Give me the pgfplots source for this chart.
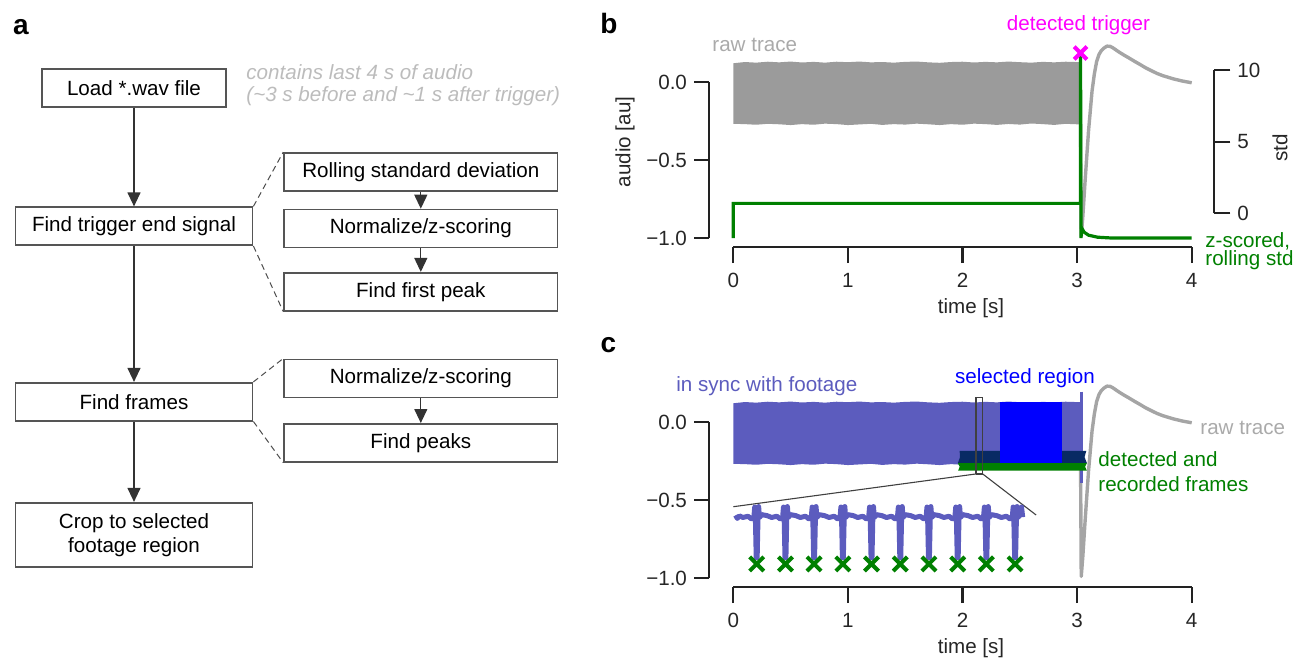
\documentclass[border=0pt]{standalone}
\usepackage{fontspec}
\setmainfont{Liberation Sans}
\usepackage{pgfplots}
\pgfplotsset{compat=1.18}
\usetikzlibrary{arrows.meta}

\definecolor{bandgray}{RGB}{155,155,155}
\definecolor{curvegray}{RGB}{165,165,165}
\definecolor{txtgray}{RGB}{170,170,170}
\definecolor{notegray}{RGB}{188,188,188}
\definecolor{zgreen}{RGB}{0,128,0}
\definecolor{trigmag}{RGB}{255,0,255}
\definecolor{syncpurple}{RGB}{92,92,190}
\definecolor{selblue}{RGB}{0,0,255}
\definecolor{navyb}{RGB}{8,42,100}
\definecolor{spine}{RGB}{34,34,34}
\definecolor{boxline}{RGB}{85,85,85}

\newcommand{\fs}{\fontsize{10.3}{12}\selectfont}

\pgfplotsset{
  spineaxis/.style={scale only axis, axis line style={spine, line width=1.15pt},
    major tick style={spine, line width=1.15pt}, tick align=outside, major tick length=7.5pt,
    tick label style={font=\fs, text=black!85}, /pgf/number format/assume math mode=true},
  dataaxis/.style={scale only axis, width=229.2pt, height=78pt, xmin=0, xmax=4, ymin=-1, ymax=0,
    hide axis, clip=false},
}

\begin{document}
\begin{tikzpicture}[font=\fs]
\useasboundingbox (0,0) rectangle (654.5pt,330pt);

% ---------------- panel a ----------------
\tikzset{box/.style={draw=boxline, line width=0.8pt, inner sep=0pt, align=center, minimum height=19pt},
  arr/.style={draw=black!80, line width=0.6pt, -{Triangle[width=6.5pt,length=7pt]}},
  dsh/.style={draw=black!70, line width=0.5pt, dash pattern=on 3pt off 2pt}}

\node[font=\fontsize{14}{16}\selectfont\bfseries] at (10.5pt,316.25pt) {a};
\node[box, minimum width=92pt] (load) at (67pt,286pt) {Load *.wav file};
\node[box, minimum width=118.6pt] (trig) at (67pt,216.9pt) {Find trigger end signal};
\node[box, minimum width=136.8pt] (roll) at (210.4pt,244pt) {Rolling standard deviation};
\node[box, minimum width=136.8pt] (norm1) at (210.4pt,215.75pt) {Normalize/z-scoring};
\node[box, minimum width=136.8pt] (ffp) at (210.4pt,184.15pt) {Find first peak};
\node[box, minimum width=118.6pt] (frames) at (67pt,129.15pt) {Find frames};
\node[box, minimum width=136.8pt] (norm2) at (210.4pt,140.85pt) {Normalize/z-scoring};
\node[box, minimum width=136.8pt] (peaks) at (210.4pt,108.6pt) {Find peaks};
\node[box, minimum width=118.6pt, minimum height=32pt] (crop) at (67pt,62.65pt) {Crop to selected\\footage region};

\draw[arr] (load.south) -- (trig.north);
\draw[arr] (trig.south) -- (frames.north);
\draw[arr] (frames.south) -- (crop.north);
\draw[arr] (roll.south) -- (norm1.north);
\draw[arr] (norm1.south) -- (ffp.north);
\draw[arr] (norm2.south) -- (peaks.north);
\draw[dsh] (trig.north east) -- (roll.north west);
\draw[dsh] (trig.south east) -- (ffp.south west);
\draw[dsh] (frames.north east) -- (norm2.north west);
\draw[dsh] (frames.south east) -- (peaks.south west);

\node[anchor=west, inner sep=0pt, text=notegray, font=\fs\itshape] at (123pt,294.15pt) {contains last 4 s of audio};
\node[anchor=west, inner sep=0pt, text=notegray, font=\fs\itshape] at (123pt,282.15pt) {(\textasciitilde 3 s before and \textasciitilde 1 s after trigger)};

% ---------------- panel b ----------------
\node[font=\fontsize{14}{16}\selectfont\bfseries] at (304.5pt,318.5pt) {b};

\begin{axis}[dataaxis, anchor=south west, at={(366.65pt,211pt)}]
\addplot[draw=none, fill=bandgray] coordinates {
(0,0.12) (0.1,0.128) (0.2,0.124) (0.3,0.13) (0.4,0.126) (0.5,0.131) (0.6,0.125) (0.7,0.129) (0.8,0.124) (0.9,0.13)
(1.0,0.127) (1.1,0.131) (1.2,0.126) (1.3,0.128) (1.4,0.124) (1.5,0.129) (1.6,0.131) (1.7,0.126) (1.8,0.123) (1.9,0.128)
(2.0,0.13) (2.1,0.125) (2.2,0.129) (2.3,0.126) (2.4,0.131) (2.5,0.127) (2.6,0.124) (2.7,0.129) (2.8,0.126) (2.9,0.13) (3.03,0.127)
(3.03,-0.272) (2.9,-0.268) (2.8,-0.275) (2.7,-0.27) (2.6,-0.266) (2.5,-0.273) (2.4,-0.269) (2.3,-0.275) (2.2,-0.27) (2.1,-0.267)
(2.0,-0.274) (1.9,-0.27) (1.8,-0.276) (1.7,-0.271) (1.6,-0.267) (1.5,-0.273) (1.4,-0.27) (1.3,-0.275) (1.2,-0.268) (1.1,-0.272)
(1.0,-0.276) (0.9,-0.27) (0.8,-0.267) (0.7,-0.274) (0.6,-0.27) (0.5,-0.276) (0.4,-0.271) (0.3,-0.268) (0.2,-0.274) (0.1,-0.27) (0,-0.268)};
\addplot[curvegray, line width=1.7pt, line join=round] coordinates {
(3.03,-0.27) (3.036,-0.99) (3.05,-0.86) (3.07,-0.63) (3.10,-0.31) (3.13,-0.06) (3.15,0.05) (3.17,0.13) (3.19,0.175)
(3.21,0.2) (3.23,0.215) (3.26,0.23) (3.29,0.228) (3.31,0.22) (3.34,0.205) (3.37,0.19) (3.41,0.172) (3.45,0.155)
(3.5,0.133) (3.55,0.112) (3.6,0.09) (3.66,0.068) (3.7,0.054) (3.75,0.04) (3.84,0.02) (3.92,0.006) (4.0,-0.005)};
\addplot[zgreen, line width=1.6pt] coordinates {
(0,-1) (0,-0.778) (3.03,-0.778) (3.03,0.186) (3.034,-1) (3.04,-0.935) (3.06,-0.962) (3.1,-0.982) (3.18,-0.995) (3.3,-1) (4,-1)};
\addplot[only marks, mark=x, mark size=4.5pt, trigmag, line width=2pt] coordinates {(3.03,0.186)};
\end{axis}

\begin{axis}[spineaxis, anchor=south west, at={(354.5pt,211pt)}, width=4pt, height=78pt,
  xmin=0, xmax=1, ymin=-1, ymax=0, axis y line*=left, hide x axis,
  ytick={-1,-0.5,0}, yticklabels={−1.0,−0.5,0.0}]
\end{axis}
\begin{axis}[spineaxis, anchor=south west, at={(366.65pt,206.5pt)}, width=229.2pt, height=4pt,
  xmin=0, xmax=4, ymin=0, ymax=1, axis x line*=bottom, hide y axis, major tick length=8pt,
  xtick={0,1,2,3,4}, xticklabels={0,1,2,3,4}, xticklabel style={yshift=-1.5pt}]
\end{axis}
\begin{axis}[spineaxis, anchor=south east, at={(607.15pt,223.35pt)}, width=4pt, height=71.65pt,
  xmin=0, xmax=1, ymin=0, ymax=10, axis y line*=right, hide x axis, major tick length=8pt,
  ytick={0,5,10}, yticklabels={0,5,10}]
\end{axis}

\node[anchor=west, inner sep=0pt, text=txtgray] at (356pt,307.5pt) {raw trace};
\node[inner sep=0pt, text=trigmag] at (539.25pt,317.65pt) {detected trigger};
\node[anchor=west, inner sep=0pt, text=zgreen] at (602.5pt,209.5pt) {z-scored,};
\node[anchor=west, inner sep=0pt, text=zgreen] at (602.5pt,200pt) {rolling std};
\node[rotate=90, inner sep=0pt, text=black!85] at (312.5pt,259pt) {audio [au]};
\node[rotate=90, inner sep=0pt, text=black!85] at (640pt,256pt) {std};
\node[inner sep=0pt, text=black!85] at (485.5pt,176pt) {time [s]};

% ---------------- panel c ----------------
\node[font=\fontsize{14}{16}\selectfont\bfseries] at (304.25pt,157.5pt) {c};

\begin{axis}[dataaxis, anchor=south west, at={(366.65pt,41pt)}]
\addplot[draw=none, fill=syncpurple] coordinates {
(0,0.12) (0.1,0.128) (0.2,0.124) (0.3,0.13) (0.4,0.126) (0.5,0.131) (0.6,0.125) (0.7,0.129) (0.8,0.124) (0.9,0.13)
(1.0,0.127) (1.1,0.131) (1.2,0.126) (1.3,0.128) (1.4,0.124) (1.5,0.129) (1.6,0.131) (1.7,0.126) (1.8,0.123) (1.9,0.128)
(2.0,0.13) (2.1,0.125) (2.2,0.129) (2.3,0.126) (2.4,0.131) (2.5,0.127) (2.6,0.124) (2.7,0.129) (2.8,0.126) (2.9,0.13) (3.03,0.127)
(3.03,-0.272) (2.9,-0.268) (2.8,-0.275) (2.7,-0.27) (2.6,-0.266) (2.5,-0.273) (2.4,-0.269) (2.3,-0.275) (2.2,-0.27) (2.1,-0.267)
(2.0,-0.274) (1.9,-0.27) (1.8,-0.276) (1.7,-0.271) (1.6,-0.267) (1.5,-0.273) (1.4,-0.27) (1.3,-0.275) (1.2,-0.268) (1.1,-0.272)
(1.0,-0.276) (0.9,-0.27) (0.8,-0.267) (0.7,-0.274) (0.6,-0.27) (0.5,-0.276) (0.4,-0.271) (0.3,-0.268) (0.2,-0.274) (0.1,-0.27) (0,-0.268)};
\addplot[curvegray, line width=1.7pt, line join=round] coordinates {
(3.03,-0.27) (3.036,-0.99) (3.05,-0.86) (3.07,-0.63) (3.10,-0.31) (3.13,-0.06) (3.15,0.05) (3.17,0.13) (3.19,0.175)
(3.21,0.2) (3.23,0.215) (3.26,0.23) (3.29,0.228) (3.31,0.22) (3.34,0.205) (3.37,0.19) (3.41,0.172) (3.45,0.155)
(3.5,0.133) (3.55,0.112) (3.6,0.09) (3.66,0.068) (3.7,0.054) (3.75,0.04) (3.84,0.02) (3.92,0.006) (4.0,-0.005)};
\addplot[syncpurple, line width=1.4pt] coordinates {(3.04,0.195) (3.04,-0.39)};
% detected frames (upper part over the trace, lower part below it)
\addplot[draw=none, fill=navyb] coordinates {
(1.975,-0.185) (3.08,-0.185) (3.065,-0.225) (3.085,-0.263) (1.96,-0.263) (1.978,-0.225)};
\addplot[draw=none, fill=zgreen] coordinates {
(1.96,-0.263) (3.085,-0.263) (3.07,-0.287) (3.085,-0.312) (1.962,-0.312) (1.975,-0.287)};
\addplot[draw=none, fill=selblue] coordinates {(2.33,0.128) (2.87,0.128) (2.87,-0.262) (2.33,-0.262)};
% zoom box and connectors
\addplot[black!75, line width=0.55pt] coordinates {(2.118,-0.333) (2.176,-0.333) (2.176,0.158) (2.118,0.158) (2.118,-0.333)};
\addplot[black!75, line width=0.55pt] coordinates {(2.118,-0.333) (0,-0.543)};
\addplot[black!75, line width=0.55pt] coordinates {(2.176,-0.333) (2.642,-0.596)};
% inset trace
\addplot[syncpurple, line width=2.5pt, line join=round] table {
0.020 -0.598
0.035 -0.618
0.055 -0.602
0.084 -0.612
0.129 -0.604
0.159 -0.622
0.179 -0.612
0.187 -0.545
0.193 -0.628
0.200 -0.870
0.208 -0.870
0.215 -0.628
0.221 -0.542
0.228 -0.612
0.249 -0.594
0.294 -0.600
0.335 -0.612
0.380 -0.604
0.410 -0.622
0.430 -0.612
0.438 -0.545
0.444 -0.628
0.451 -0.870
0.459 -0.870
0.466 -0.628
0.472 -0.542
0.479 -0.612
0.500 -0.594
0.545 -0.600
0.585 -0.612
0.630 -0.604
0.660 -0.622
0.680 -0.612
0.688 -0.545
0.694 -0.628
0.701 -0.870
0.709 -0.870
0.716 -0.628
0.722 -0.542
0.729 -0.612
0.750 -0.594
0.795 -0.600
0.836 -0.612
0.881 -0.604
0.911 -0.622
0.931 -0.612
0.939 -0.545
0.945 -0.628
0.952 -0.870
0.960 -0.870
0.967 -0.628
0.973 -0.542
0.980 -0.612
1.001 -0.594
1.046 -0.600
1.086 -0.612
1.131 -0.604
1.161 -0.622
1.181 -0.612
1.189 -0.545
1.195 -0.628
1.202 -0.870
1.210 -0.870
1.217 -0.628
1.223 -0.542
1.230 -0.612
1.251 -0.594
1.296 -0.600
1.337 -0.612
1.382 -0.604
1.412 -0.622
1.432 -0.612
1.440 -0.545
1.446 -0.628
1.453 -0.870
1.461 -0.870
1.468 -0.628
1.474 -0.542
1.481 -0.612
1.502 -0.594
1.547 -0.600
1.587 -0.612
1.632 -0.604
1.662 -0.622
1.682 -0.612
1.690 -0.545
1.696 -0.628
1.703 -0.870
1.711 -0.870
1.718 -0.628
1.724 -0.542
1.731 -0.612
1.752 -0.594
1.797 -0.600
1.838 -0.612
1.883 -0.604
1.913 -0.622
1.933 -0.612
1.941 -0.545
1.947 -0.628
1.954 -0.870
1.962 -0.870
1.969 -0.628
1.975 -0.542
1.982 -0.612
2.003 -0.594
2.048 -0.600
2.088 -0.612
2.133 -0.604
2.163 -0.622
2.183 -0.612
2.191 -0.545
2.197 -0.628
2.204 -0.870
2.212 -0.870
2.219 -0.628
2.225 -0.542
2.232 -0.612
2.253 -0.594
2.298 -0.600
2.339 -0.612
2.384 -0.604
2.414 -0.622
2.434 -0.612
2.442 -0.545
2.448 -0.628
2.455 -0.870
2.463 -0.870
2.470 -0.628
2.476 -0.542
2.483 -0.612
2.504 -0.594
2.515 -0.545
2.525 -0.610
};
\addplot[only marks, mark=x, mark size=5pt, zgreen, line width=2pt] coordinates {
(0.204,-0.91) (0.455,-0.91) (0.705,-0.91) (0.956,-0.91) (1.206,-0.91)
(1.457,-0.91) (1.707,-0.91) (1.958,-0.91) (2.208,-0.91) (2.459,-0.91)};
\end{axis}

\begin{axis}[spineaxis, anchor=south west, at={(354.5pt,41pt)}, width=4pt, height=78pt,
  xmin=0, xmax=1, ymin=-1, ymax=0, axis y line*=left, hide x axis,
  ytick={-1,-0.5,0}, yticklabels={−1.0,−0.5,0.0}]
\end{axis}
\begin{axis}[spineaxis, anchor=south west, at={(366.65pt,36.5pt)}, width=229.2pt, height=4pt,
  xmin=0, xmax=4, ymin=0, ymax=1, axis x line*=bottom, hide y axis, major tick length=8pt,
  xtick={0,1,2,3,4}, xticklabels={0,1,2,3,4}, xticklabel style={yshift=-1.5pt}]
\end{axis}

\node[anchor=west, inner sep=0pt, text=syncpurple] at (338pt,137pt) {in sync with footage};
\node[inner sep=0pt, text=selblue] at (512.5pt,141pt) {selected region};
\node[anchor=west, inner sep=0pt, text=txtgray] at (600pt,116pt) {raw trace};
\node[anchor=west, inner sep=0pt, text=zgreen] at (549pt,100.5pt) {detected and};
\node[anchor=west, inner sep=0pt, text=zgreen] at (549pt,88pt) {recorded frames};
\node[inner sep=0pt, text=black!85] at (485.5pt,6pt) {time [s]};
\end{tikzpicture}
\end{document}
